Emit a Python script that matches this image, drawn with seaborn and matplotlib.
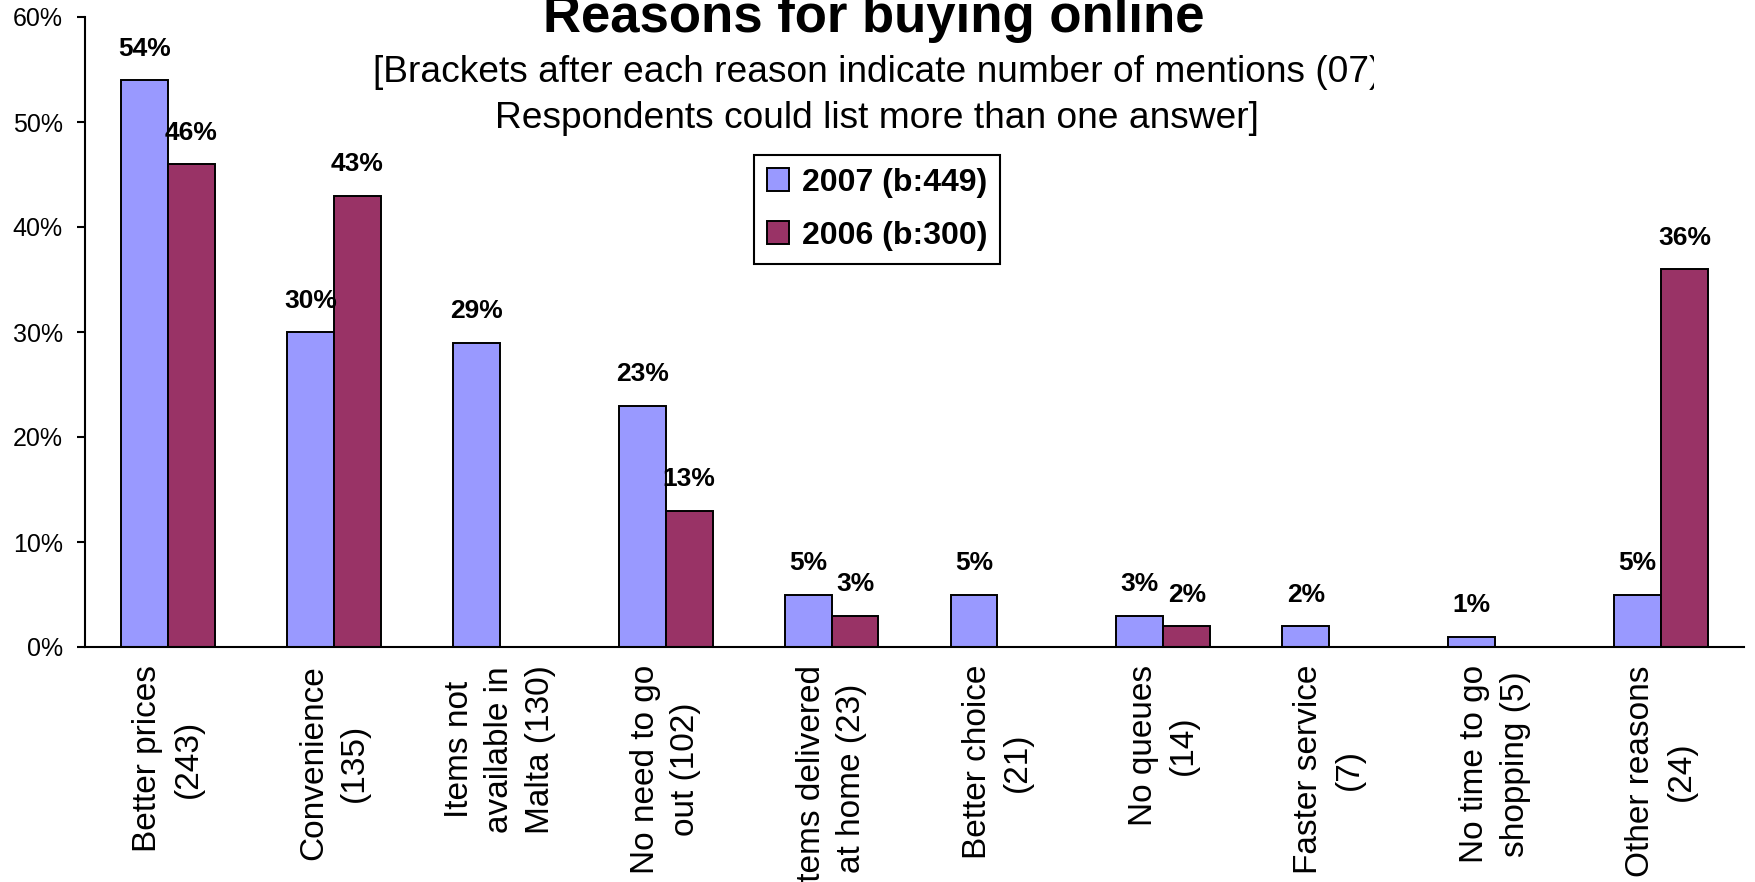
import numpy as np
import pandas as pd
import matplotlib
matplotlib.use("Agg")
import matplotlib.pyplot as plt
from matplotlib.transforms import Bbox, TransformedBbox
import seaborn as sns

# Данные
reasons = [
    "Better prices\n(243)",
    "Convenience\n(135)",
    "Items not\navailable in\nMalta (130)",
    "No need to go\nout (102)",
    "Items delivered\nat home (23)",
    "Better choice\n(21)",
    "No queues\n(14)",
    "Faster service\n(7)",
    "No time to go\nshopping (5)",
    "Other reasons\n(24)",
]
share_2007 = [54, 30, 29, 23, 5, 5, 3, 2, 1, 5]
share_2006 = [46, 43, 0, 13, 3, 0, 2, 0, 0, 36]
series_names = ["2007 (b:449)", "2006 (b:300)"]
series_colors = ["#9999FF", "#993366"]
y_ticks = [0, 10, 20, 30, 40, 50, 60]

title = "Reasons for buying online"
subtitle_1 = "[Brackets after each reason indicate number of mentions (07)"
subtitle_2 = "Respondents could list more than one answer]"

df = pd.DataFrame({
    "reason": reasons * 2,
    "year": [series_names[0]] * len(reasons) + [series_names[1]] * len(reasons),
    "value": share_2007 + share_2006,
})

sns.set_style("white")
plt.rcParams["font.family"] = ["Liberation Sans", "DejaVu Sans"]
plt.rcParams["text.color"] = "black"
plt.rcParams["xtick.color"] = "black"
plt.rcParams["ytick.color"] = "black"
plt.rcParams["axes.labelcolor"] = "black"

W, H = 1755, 882
fig = plt.figure(figsize=(W / 100, H / 100), dpi=100)
ax = fig.add_axes([85 / W, 1 - 647 / H, 1659 / W, 630 / H])

sns.barplot(data=df, x="reason", y="value", hue="year", order=reasons,
            hue_order=series_names, palette=series_colors, width=0.566,
            edgecolor="black", linewidth=1.4, saturation=1, ax=ax)

# Подписи над столбиками
for cont in ax.containers:
    labels = [f"{b.get_height():.0f}%" if b.get_height() > 0 else "" for b in cont]
    ax.bar_label(cont, labels=labels, padding=14, fontsize=19, fontweight="bold",
                 color="black")

ax.set_xlim(-0.5, len(reasons) - 0.5)
ax.set_ylim(0, 60)
ax.set_yticks(y_ticks)
ax.set_yticklabels([f"{v}%" for v in y_ticks], fontsize=18)
ax.set_xlabel("")
ax.set_ylabel("")

ax.set_xticks(range(len(reasons)))
ax.set_xticklabels(reasons, rotation=90, fontsize=24, va="top", ha="center",
                   multialignment="center", linespacing=1.4)
ax.set_xticks(np.arange(-0.5, len(reasons), 1), minor=True)
ax.tick_params(axis="x", which="major", length=0, pad=13)
ax.tick_params(axis="x", which="minor", length=6.5, width=1.5, color="black")
ax.tick_params(axis="y", length=6, width=1.5, color="black", pad=10, left=True)

for side in ["top", "right"]:
    ax.spines[side].set_visible(False)
for side in ["left", "bottom"]:
    ax.spines[side].set_color("black")
    ax.spines[side].set_linewidth(1.5)

# Легенда
ax.legend_.remove()
handles, labels = ax.get_legend_handles_labels()
leg = ax.legend(handles, labels, loc="upper left",
                bbox_to_anchor=(754 / W, 1 - 155 / H), bbox_transform=fig.transFigure,
                frameon=True, fancybox=False, edgecolor="black", framealpha=1,
                prop={"size": 23, "weight": "bold"}, handlelength=0.7,
                handleheight=0.7, handletextpad=0.4, labelspacing=0.72,
                borderpad=0.4, borderaxespad=0)
leg.get_frame().set_linewidth(1.5)

# Заголовки
fig.text(874 / W, 1 - 32 / H, title, ha="center", va="baseline",
         fontsize=38, fontweight="bold")
t1 = fig.text(877 / W, 1 - 82 / H, subtitle_1, ha="center", va="baseline", fontsize=26.7)
t1.set_clip_box(TransformedBbox(Bbox([[0, 0], [1374 / W, 1]]), fig.transFigure))
t1.set_clip_on(True)
fig.text(877 / W, 1 - 128 / H, subtitle_2, ha="center", va="baseline", fontsize=26.7)

fig.savefig("out.png", dpi=100)
